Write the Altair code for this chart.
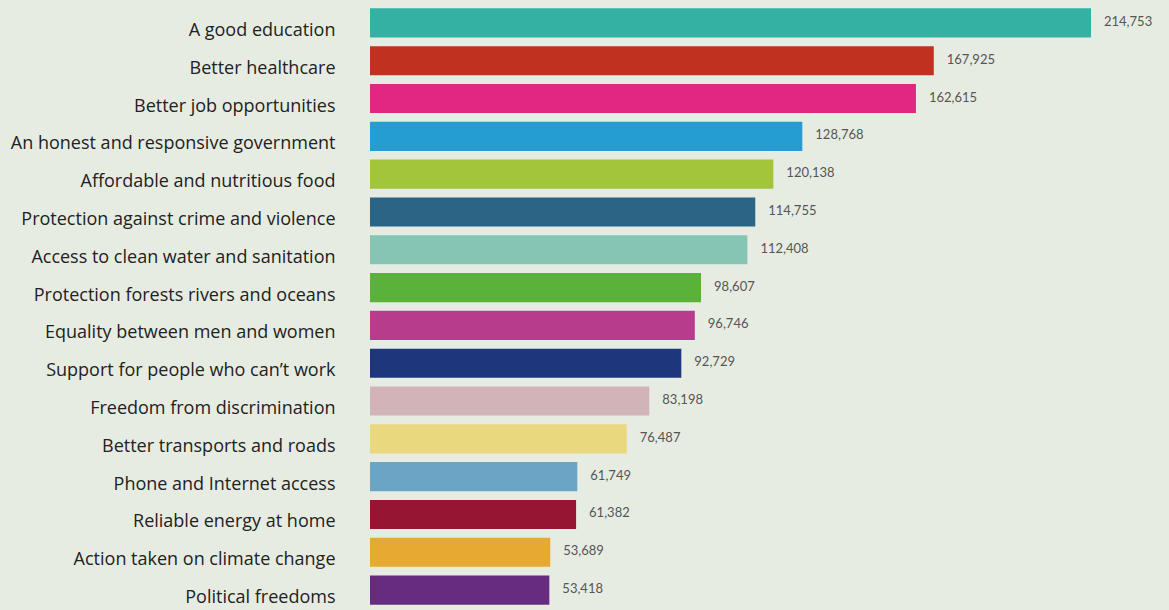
import altair as alt
import pandas as pd

categories = [
    "A good education",
    "Better healthcare",
    "Better job opportunities",
    "An honest and responsive government",
    "Affordable and nutritious food",
    "Protection against crime and violence",
    "Access to clean water and sanitation",
    "Protection forests rivers and oceans",
    "Equality between men and women",
    "Support for people who can\u2019t work",
    "Freedom from discrimination",
    "Better transports and roads",
    "Phone and Internet access",
    "Reliable energy at home",
    "Action taken on climate change",
    "Political freedoms",
]
values = [214753, 167925, 162615, 128768, 120138, 114755, 112408, 98607,
          96746, 92729, 83198, 76487, 61749, 61382, 53689, 53418]
colors = ["#35b1a4", "#c0321f", "#e02880", "#259dd3", "#a3c53b", "#2b6585",
          "#86c5b4", "#5bb23a", "#b73c8b", "#1e367c", "#d2b3b7", "#ead87f",
          "#6ba5c6", "#951533", "#e6a932", "#672b80"]

df = pd.DataFrame({"category": categories, "value": values, "color": colors,
                   "label": [f"{v:,}" for v in values]})

y = alt.Y("category:N", sort=categories,
          scale=alt.Scale(paddingInner=0.23, paddingOuter=0.115),
          axis=alt.Axis(title=None, domain=False, ticks=False, labelPadding=35,
                        labelOffset=8,
                        labelFont="Open Sans", labelFontSize=18, labelColor="#222222",
                        labelLimit=400))
x = alt.X("value:Q", scale=alt.Scale(domain=[0, 214753], nice=False), axis=None)

bars = alt.Chart(df).mark_bar().encode(
    y=y, x=x, color=alt.Color("color:N", scale=None)
)
text = alt.Chart(df).mark_text(align="left", baseline="middle", dx=13, dy=-1,
                               font="Lato", fontSize=13, color="#555555").encode(
    y=alt.Y("category:N", sort=categories), x="value:Q", text="label:N"
)

chart = (bars + text).properties(
    width=721, height=605, background="#e7ece3",
    padding={"left": 370, "top": 4, "right": 78, "bottom": 1},
    autosize=alt.AutoSizeParams(type="none"),
).configure_view(stroke=None)

chart.save("out.html", embed_options={"renderer": "svg", "actions": False})
